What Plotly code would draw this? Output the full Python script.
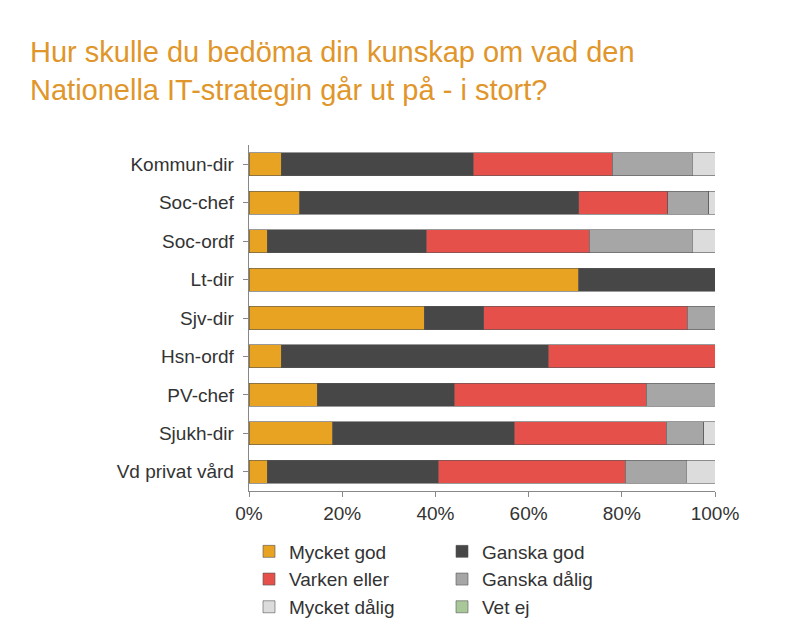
import plotly.graph_objects as go

categories = ["Kommun-dir","Soc-chef","Soc-ordf","Lt-dir","Sjv-dir","Hsn-ordf","PV-chef","Sjukh-dir","Vd privat vård"]
series_names = ["Mycket god","Ganska god","Varken eller","Ganska dålig","Mycket dålig","Vet ej"]
mycket_god   = [6.9,10.9,3.9,70.8,37.6,6.9,14.6,18.0,3.9]
ganska_god   = [41.2,59.9,34.1,29.2,12.8,57.3,29.4,38.9,36.7]
varken_eller = [29.8,19.1,35.0,0,43.6,35.8,41.2,32.6,40.1]
ganska_dalig = [17.2,8.8,22.1,0,6.0,0,14.8,8.1,13.1]
mycket_dalig = [4.9,1.3,4.9,0,0,0,0,2.4,6.2]
vet_ej       = [0,0,0,0,0,0,0,0,0]
values = [mycket_god,ganska_god,varken_eller,ganska_dalig,mycket_dalig,vet_ej]
colors = ["#E8A322","#474747","#E5504B","#A6A6A6","#DCDCDC","#A9C89A"]

fig = go.Figure()
for n, v, c in zip(series_names, values, colors):
    fig.add_trace(go.Bar(y=categories, x=v, name=n, orientation="h",
                         marker=dict(color=c, line=dict(color="#555555", width=0.6))))

fig.add_annotation(text="Hur skulle du bedöma din kunskap om vad den<br>Nationella IT-strategin går ut på - i stort?",
                   xref="paper", yref="paper", x=-0.474, y=1.32, xanchor="left", yanchor="top",
                   align="left", showarrow=False, font=dict(size=29, color="#E0962A"))

fig.update_layout(
    width=810, height=630, barmode="stack", bargap=0.4,
    paper_bgcolor="white", plot_bgcolor="white",
    font=dict(family="Liberation Sans, Arial", size=19, color="#333333"),
    margin=dict(l=241, r=103, t=137, b=113),
    xaxis=dict(range=[0,100], tickvals=[0,20,40,60,80,100], ticktext=["0%","20%","40%","60%","80%","100%"],
               showgrid=False, showline=True, linecolor="#888888", ticks="outside", ticklen=5,
               tickcolor="#888888", zeroline=False),
    yaxis=dict(autorange="reversed", showline=True, linecolor="#888888", ticks="outside",
               ticklen=5, tickcolor="#888888", ticksuffix=" "),
    legend=dict(orientation="h", x=0.0, xanchor="left", y=-0.12, yanchor="top",
                entrywidth=148, traceorder="normal", font=dict(size=19),
                tracegroupgap=0, itemwidth=30),
)
fig.write_html("out.html")
